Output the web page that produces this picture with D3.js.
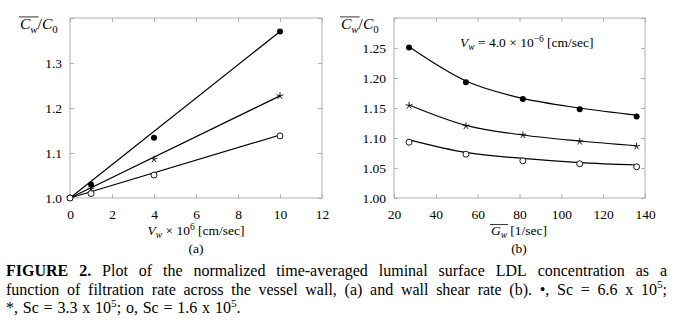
<!DOCTYPE html>
<html>
<head>
<meta charset="utf-8">
<script src="https://cdn.jsdelivr.net/npm/d3@7"></script>
<style>
  body { margin: 0; background: #fff; }
  svg { display: block; }
  text { font-family: "Liberation Serif", "Times New Roman", serif; fill: #000; }
</style>
</head>
<body>
<svg id="fig" width="673" height="328"></svg>
<script>
// panel (a): concentration vs filtration velocity
const vwX = [0, 1, 4, 10];
const vwHigh = [1.0, 1.03, 1.134, 1.37];
const vwMid = [1.0, 1.02, 1.086, 1.227];
const vwLow = [1.0, 1.01, 1.051, 1.138];
const vwFitX = [0, 10];
const vwFitHigh = [1.0, 1.37];
const vwFitMid = [1.0, 1.227];
const vwFitLow = [1.0, 1.14];
const vwTicksX = [0, 2, 4, 6, 8, 10, 12];
const vwTicksY = [1.0, 1.1, 1.2, 1.3, 1.4];
const vwLabelsY = ['1.0', '1.1', '1.2', '1.3', ''];

// panel (b): concentration vs wall shear rate
const gwX = [27.2, 54.4, 81.6, 108.8, 136];
const gwHigh = [1.251, 1.193, 1.165, 1.148, 1.136];
const gwMid = [1.154, 1.12, 1.105, 1.094, 1.086];
const gwLow = [1.093, 1.073, 1.062, 1.057, 1.052];
const gwFitHigh = [1.252, 1.195, 1.166, 1.150, 1.138];
const gwFitMid = [1.155, 1.121, 1.105, 1.095, 1.087];
const gwFitLow = [1.097, 1.076, 1.066, 1.059, 1.055];
const gwTicksX = [20, 40, 60, 80, 100, 120, 140];
const gwTicksY = [1.0, 1.05, 1.1, 1.15, 1.2, 1.25, 1.3];
const gwLabelsY = ['1.00', '1.05', '1.10', '1.15', '1.20', '1.25', ''];

const svg = d3.select('#fig');
svg.append('rect').attr('width', 673).attr('height', 328).attr('fill', '#fff');

const frameColor = '#b0b0b0';
const plotTop = 18, plotBottom = 198;

// text made of pieces: {t, i (italic), sub, sup, b (bold), over (overline)}
function richText(parent, x, y, pieces, size, anchor) {
  const txt = parent.append('text')
    .attr('x', x).attr('y', y)
    .attr('font-size', size)
    .attr('text-anchor', anchor || 'start');
  let shift = 0;
  const spans = [];
  pieces.forEach(p => {
    const target = p.sub ? size * 0.25 : p.sup ? -size * 0.38 : 0;
    const sp = txt.append('tspan')
      .attr('dy', target - shift)
      .text(p.t);
    shift = target;
    if (p.sub || p.sup) sp.attr('font-size', size * 0.7);
    if (p.i) sp.attr('font-style', 'italic');
    if (p.b) sp.attr('font-weight', 'bold');
    spans.push({ node: sp.node(), over: p.over });
  });
  const over = spans.filter(s => s.over);
  if (over.length) {
    const first = over[0].node, last = over[over.length - 1].node;
    const x0 = first.getStartPositionOfChar(0).x;
    const x1 = last.getEndPositionOfChar(last.getNumberOfChars() - 1).x;
    parent.append('line')
      .attr('x1', x0 - 1).attr('x2', x1 + 1)
      .attr('y1', y - size * 0.78).attr('y2', y - size * 0.78)
      .attr('stroke', '#000').attr('stroke-width', 0.8);
  }
  return txt;
}

function starPath(r) {
  let d = '';
  for (let k = 0; k < 5; k++) {
    const a = -Math.PI / 2 + k * 2 * Math.PI / 5;
    d += `M0,0L${(r * Math.cos(a)).toFixed(2)},${(r * Math.sin(a)).toFixed(2)}`;
  }
  return d;
}

function drawPanel(cfg) {
  const x = d3.scaleLinear().domain(cfg.xDomain).range([cfg.left, cfg.right]);
  const y = d3.scaleLinear().domain(cfg.yDomain).range([plotBottom, plotTop]);
  const g = svg.append('g');

  const styleAxis = sel => {
    sel.select('.domain').remove();
    sel.selectAll('.tick line').attr('stroke', frameColor);
    sel.selectAll('.tick text')
      .attr('font-size', 13.5)
      .attr('fill', '#000');
    sel.attr('font-family', null).attr('font-size', null);
  };

  g.append('g').attr('transform', `translate(0,${plotBottom})`)
    .call(d3.axisBottom(x).tickValues(cfg.xTicks).tickSize(-4).tickPadding(11).tickFormat(d3.format('d')))
    .call(styleAxis);
  g.append('g').attr('transform', `translate(0,${plotTop})`)
    .call(d3.axisTop(x).tickValues(cfg.xTicks).tickSize(-4).tickFormat(''))
    .call(styleAxis);
  g.append('g').attr('transform', `translate(${cfg.left},0)`)
    .call(d3.axisLeft(y).tickValues(cfg.yTicks).tickSize(-4).tickPadding(8)
      .tickFormat((d, i) => cfg.yLabels[i]))
    .call(styleAxis);
  g.append('g').attr('transform', `translate(${cfg.right},0)`)
    .call(d3.axisRight(y).tickValues(cfg.yTicks).tickSize(-4).tickFormat(''))
    .call(styleAxis);

  g.append('rect')
    .attr('x', cfg.left).attr('y', plotTop)
    .attr('width', cfg.right - cfg.left).attr('height', plotBottom - plotTop)
    .attr('fill', 'none').attr('stroke', frameColor).attr('stroke-width', 1);

  cfg.series.forEach(s => {
    const line = d3.line()
      .x((d, i) => x(s.fitX[i]))
      .y(d => y(d))
      .curve(cfg.curve);
    g.append('path')
      .attr('d', line(s.fit))
      .attr('fill', 'none')
      .attr('stroke', '#000')
      .attr('stroke-width', 1.2);

    const pts = g.append('g').selectAll('g')
      .data(s.values)
      .join('g')
      .attr('transform', (d, i) => `translate(${x(cfg.xs[i])},${y(d)})`);
    if (s.marker === 'dot') {
      pts.append('circle').attr('r', 3).attr('fill', '#000');
    } else if (s.marker === 'circle') {
      pts.append('circle').attr('r', 3).attr('fill', '#fff')
        .attr('stroke', '#000').attr('stroke-width', 0.9);
    } else {
      pts.append('path').attr('d', starPath(3.6))
        .attr('stroke', '#000').attr('stroke-width', 0.9).attr('fill', 'none');
    }
  });
  return { x, y };
}

drawPanel({
  left: 70, right: 322,
  xDomain: [0, 12], yDomain: [1.0, 1.4],
  xTicks: vwTicksX, yTicks: vwTicksY, yLabels: vwLabelsY,
  xs: vwX, curve: d3.curveLinear,
  series: [
    { values: vwHigh, fit: vwFitHigh, fitX: vwFitX, marker: 'dot' },
    { values: vwMid, fit: vwFitMid, fitX: vwFitX, marker: 'star' },
    { values: vwLow, fit: vwFitLow, fitX: vwFitX, marker: 'circle' }
  ]
});

drawPanel({
  left: 394, right: 645,
  xDomain: [20, 140], yDomain: [1.0, 1.3],
  xTicks: gwTicksX, yTicks: gwTicksY, yLabels: gwLabelsY,
  xs: gwX, curve: d3.curveMonotoneX,
  series: [
    { values: gwHigh, fit: gwFitHigh, fitX: gwX, marker: 'dot' },
    { values: gwMid, fit: gwFitMid, fitX: gwX, marker: 'star' },
    { values: gwLow, fit: gwFitLow, fitX: gwX, marker: 'circle' }
  ]
});

// axis titles
const yTitle = [
  { t: 'C', i: true, over: true }, { t: 'w', i: true, sub: true, over: true },
  { t: '/' }, { t: 'C', i: true }, { t: '0', sub: true }
];
richText(svg, 20, 29, yTitle, 15.5);
richText(svg, 341, 29, yTitle, 15.5);

richText(svg, 196, 235, [
  { t: 'V', i: true }, { t: 'w', i: true, sub: true }, { t: ' \u00d7 10' },
  { t: '6', sup: true }, { t: ' [cm/sec]' }
], 13.5, 'middle');
richText(svg, 196, 253, [{ t: '(a)' }], 13.5, 'middle');

richText(svg, 519, 235, [
  { t: 'G', i: true, over: true }, { t: 'w', i: true, sub: true, over: true },
  { t: ' [1/sec]' }
], 13.5, 'middle');
richText(svg, 519, 253, [{ t: '(b)' }], 13.5, 'middle');

richText(svg, 460, 47, [
  { t: 'V', i: true }, { t: 'w', i: true, sub: true }, { t: ' = 4.0 \u00d7 10' },
  { t: '\u22126', sup: true }, { t: ' [cm/sec]' }
], 13.5);

// caption, justified word by word
const captionLines = [
  { justify: true, words: [
    [{ t: 'FIGURE', b: true }], [{ t: '2.', b: true }],
    ...'Plot of the normalized time-averaged luminal surface LDL concentration as a'.split(' ').map(w => [{ t: w }])
  ] },
  { justify: true, words: [
    ...'function of filtration rate across the vessel wall, (a) and wall shear rate (b). \u2022, Sc = 6.6 x'.split(' ').map(w => [{ t: w }]),
    [{ t: '10' }, { t: '5', sup: true }, { t: ';' }]
  ] },
  { justify: false, words: [
    [{ t: '*,' }], [{ t: 'Sc' }], [{ t: '=' }], [{ t: '3.3' }], [{ t: 'x' }],
    [{ t: '10' }, { t: '5', sup: true }, { t: ';' }],
    [{ t: 'o,' }], [{ t: 'Sc' }], [{ t: '=' }], [{ t: '1.6' }], [{ t: 'x' }],
    [{ t: '10' }, { t: '5', sup: true }, { t: '.' }]
  ] }
];
const capLeft = 6, capRight = 667, capSize = 16;
const capBase = [275.5, 294.5, 313];
const cap = svg.append('g');
captionLines.forEach((ln, li) => {
  const nodes = ln.words.map(w => richText(cap, 0, capBase[li], w, capSize));
  const widths = nodes.map(n => n.node().getComputedTextLength());
  const total = d3.sum(widths);
  const gap = ln.justify ? (capRight - capLeft - total) / (nodes.length - 1) : capSize * 0.3;
  let xPos = capLeft;
  nodes.forEach((n, i) => {
    n.attr('x', xPos);
    xPos += widths[i] + gap;
  });
});
</script>
</body>
</html>
